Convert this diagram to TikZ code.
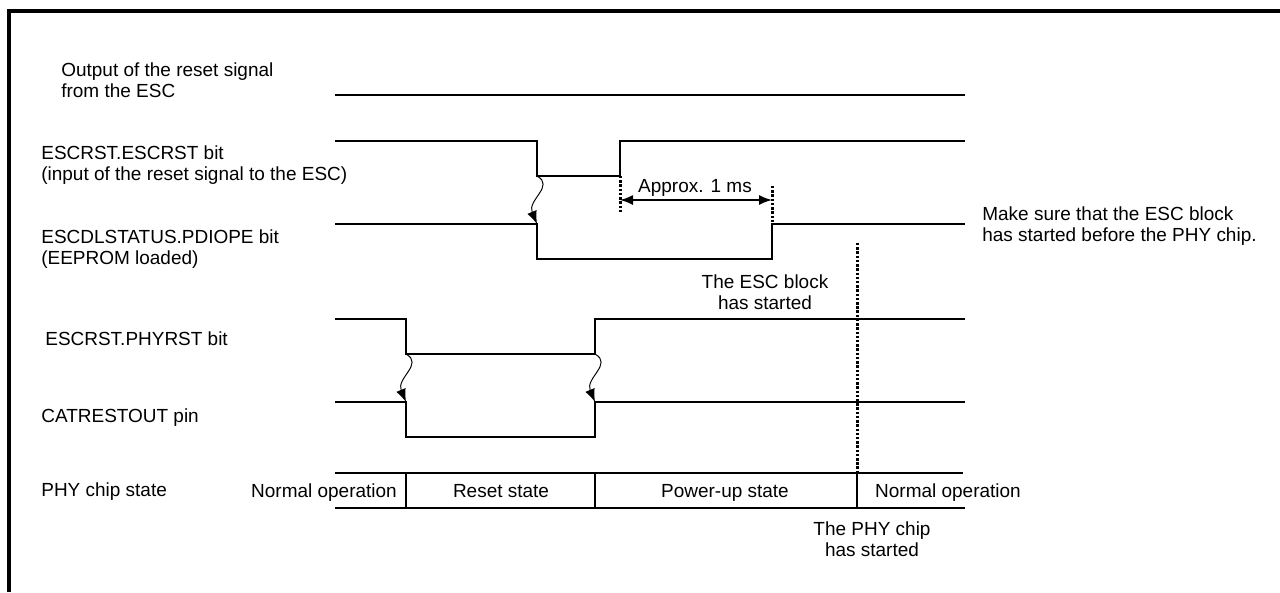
\documentclass[tikz,border=0pt]{standalone}
\usepackage{fontspec}
\setmainfont{Liberation Sans}
\usetikzlibrary{arrows.meta}

\begin{document}
\begin{tikzpicture}[
    x=0.02cm, y=-0.02cm,
    font=\fontsize{10.8}{12.2}\selectfont,
    siglabel/.style={anchor=west, align=left, inner sep=0pt},
    note/.style={align=center, inner sep=0pt},
    phase/.style={anchor=base, inner sep=0pt},
    wave/.style={line width=1.1pt},
    guide/.style={line width=1.7pt, dash pattern=on 1.4pt off 1pt},
    cause/.style={-{Latex[length=2.6mm,width=2mm]}, line width=0.55pt},
    dim/.style={{Latex[length=2.6mm,width=2mm]}-{Latex[length=2.6mm,width=2mm]}, line width=0.9pt}
  ]
    \useasboundingbox (0,0) rectangle (1280,592);
    \draw[line width=2.2pt] (9,592) -- (9,11) -- (1280,11);

    % signal names
    \node[siglabel] (lblout) at (61,80) {Output of the reset signal\\from the ESC};
    \node[siglabel] (lblescrst) at (41,165) {ESCRST.ESCRST bit\\(input of the reset signal to the ESC)};
    \node[siglabel] (lblpdiope) at (41,249) {ESCDLSTATUS.PDIOPE bit\\(EEPROM loaded)};
    \node[siglabel] (lblphyrst) at (45,339) {ESCRST.PHYRST bit};
    \node[siglabel] (lblcat) at (41,418) {CATRESTOUT pin};
    \node[siglabel] (lblstate) at (41,492) {PHY chip state};

    % edges of the waveforms
    \coordinate (escfall) at (537,176);
    \coordinate (escrise) at (620,176);
    \coordinate (pdifall) at (537,224);
    \coordinate (pdirise) at (772,224);
    \coordinate (phyfall) at (406,354);
    \coordinate (phyrise) at (595,354);
    \coordinate (catfall) at (406,402);
    \coordinate (catrise) at (595,402);

    % waveforms
    \draw[wave] (335,95) -- (965,95);
    \draw[wave] (335,141) -- (537,141) -- (escfall) -- (escrise) -- (620,141) -- (965,141);
    \draw[wave] (335,224) -- (pdifall) -- (537,259) -- (772,259) -- (pdirise) -- (965,224);
    \draw[wave] (335,319) -- (406,319) -- (phyfall) -- (phyrise) -- (595,319) -- (965,319);
    \draw[wave] (335,402) -- (catfall) -- (406,437) -- (595,437) -- (catrise) -- (965,402);

    % cause and effect
    \draw[cause] (escfall) .. controls +(18,10) and +(-10,-24) .. (pdifall);
    \draw[cause] (phyfall) .. controls +(18,10) and +(-10,-24) .. (catfall);
    \draw[cause] (phyrise) .. controls +(18,10) and +(-10,-24) .. (catrise);

    % 1 ms wait
    \coordinate (spanL) at (620,200);
    \coordinate (spanR) at (772,200);
    \coordinate (guideA) at (620,213);
    \coordinate (guideB) at (772,186);
    \draw[guide] (escrise) -- (guideA);
    \draw[guide] (guideB) -- (pdirise);
    \draw[dim] (spanL) -- (spanR);
    \node[note] (approx) at (695,188) {Approx. 1 ms};

    % PHY chip state
    \draw[wave] (335,473) -- (963,473);
    \draw[wave] (335,508) -- (965,508);
    \foreach \x in {406,595,857}
      \draw[line width=0.8pt] (\x,473) -- (\x,508);
    \coordinate (phystart) at (857,243);
    \coordinate (phybar) at (857,473);
    \draw[guide] (phystart) -- (phybar);
    \node[phase] (st1) at (324,497) {Normal operation};
    \node[phase] (st2) at (501,497) {Reset state};
    \node[phase] (st3) at (725,497) {Power-up state};
    \node[phase] (st4) at (948,497) {Normal operation};

    % remarks
    \node[note] (escup) at (765,292) {The ESC block\\has started};
    \node[note] (phyup) at (872,539) {The PHY chip\\has started};
    \node[siglabel] (hint) at (982,226) {Make sure that the ESC block\\has started before the PHY chip.};
  \end{tikzpicture}
\end{document}
